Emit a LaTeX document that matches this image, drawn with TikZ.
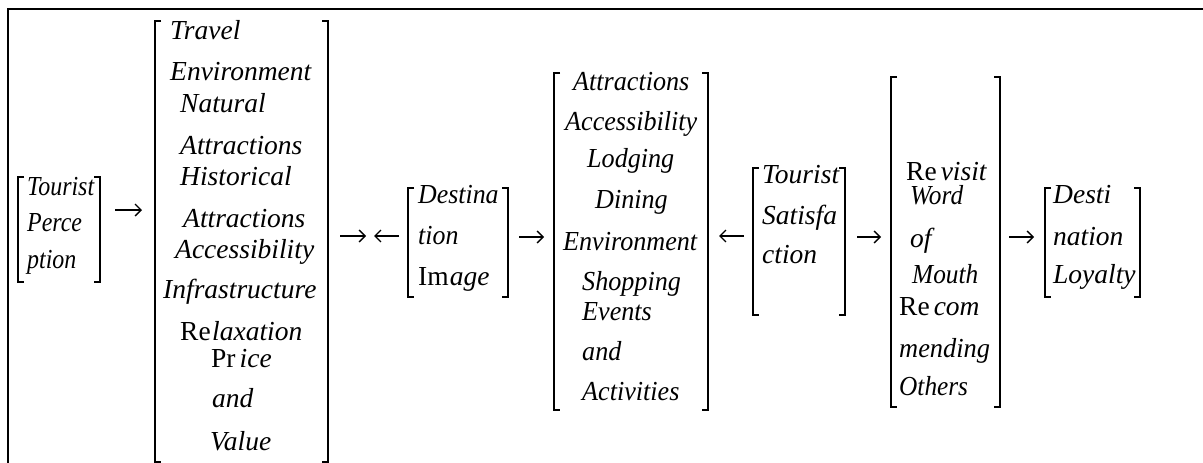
\documentclass[tikz,border=0pt]{standalone}
\usepackage{fontspec}
\setmainfont{Liberation Serif}
\usetikzlibrary{arrows.meta}
\newcommand\hsc[2]{\scalebox{#1}[1]{#2}}
\begin{document}
\begin{tikzpicture}[x=1pt,y=-1pt,
  t/.style={anchor=base west, inner sep=0pt, font=\fontsize{27.5}{30}\selectfont\itshape},
  brk/.style={line width=1.4pt},
  arr/.style={line width=1.3pt, -{Straight Barb[length=6pt,width=12pt,line width=1.3pt]}},
  frame/.style={line width=2.5pt}]
\useasboundingbox (0,0) rectangle (1203,463);
\draw[frame] (1203,9) -- (8,9) -- (8,463);

% brackets
\draw[brk] (24,177) -| (18,282) -- (24,282);
\draw[brk] (94,177) -| (100,282) -- (94,282);
\draw[brk] (161,21) -| (155,462) -- (161,462);
\draw[brk] (322,21) -| (328,462) -- (322,462);
\draw[brk] (414,188) -| (408,297) -- (414,297);
\draw[brk] (502,188) -| (508,297) -- (502,297);
\draw[brk] (560,73) -| (554,410) -- (560,410);
\draw[brk] (702,73) -| (708,410) -- (702,410);
\draw[brk] (759,168) -| (753,315) -- (759,315);
\draw[brk] (839,168) -| (845,315) -- (839,315);
\draw[brk] (897,77) -| (891,407) -- (897,407);
\draw[brk] (994,77) -| (1000,407) -- (994,407);
\draw[brk] (1051,188) -| (1045,297) -- (1051,297);
\draw[brk] (1134,188) -| (1140,297) -- (1134,297);

% Tourist Perception
\node[t] (p1) at (27,195) {\hsc{0.87}{Tourist}};
\node[t] (p2) at (27,231) {\hsc{0.87}{Perce}};
\node[t] (p3) at (27,268) {\hsc{0.87}{ption}};

% Destination attributes
\node[t] (d1) at (170,39) {Travel};
\node[t] (d2) at (170,80) {Environment};
\node[t] (d3) at (180,112) {Natural};
\node[t] (d4) at (180,154) {Attractions};
\node[t] (d5) at (180,185) {Historical};
\node[t] (d6) at (183,227) {Attractions};
\node[t] (d7) at (175,258) {Accessibility};
\node[t] (d8) at (163,298) {Infrastructure};
\node[t] (d9) at (180,340) {{\upshape Re}\hspace{1.5pt}laxation};
\node[t] (d10) at (211,367) {{\upshape Pr}\hspace{4pt}ice};
\node[t] (d11) at (212,407) {and};
\node[t] (d12) at (210,450) {Value};

% Destination Image
\node[t] (i1) at (418,203) {\hsc{0.94}{Destina}};
\node[t] (i2) at (418,244) {\hsc{0.94}{tion}};
\node[t] (i3) at (418,285) {{\upshape Im}\hspace{1pt}age};

% Attributes 2
\node[t] (e1) at (573,90) {\hsc{0.95}{Attractions}};
\node[t] (e2) at (565,130) {\hsc{0.95}{Accessibility}};
\node[t] (e3) at (587,167) {\hsc{0.95}{Lodging}};
\node[t] (e4) at (595,208) {\hsc{0.95}{Dining}};
\node[t] (e5) at (563,250) {\hsc{0.95}{Environment}};
\node[t] (e6) at (582,290) {\hsc{0.95}{Shopping}};
\node[t] (e7) at (582,320) {\hsc{0.95}{Events}};
\node[t] (e8) at (582,360) {\hsc{0.95}{and}};
\node[t] (e9) at (582,400) {\hsc{0.95}{Activities}};

% Tourist Satisfaction
\node[t] (s1) at (762,183) {Tourist};
\node[t] (s2) at (762,224) {Satisfa};
\node[t] (s3) at (762,263) {ction};

% Behaviour
\node[t] (r1) at (906,180) {{\upshape Re}\hspace{4pt}visit};
\node[t] (r2) at (910,204) {\hsc{0.92}{Word}};
\node[t] (r3) at (910,247) {of};
\node[t] (r4) at (912,283) {\hsc{0.92}{Mouth}};
\node[t] (r5) at (899,315) {{\upshape Re}\hspace{4pt}com};
\node[t] (r6) at (899,357) {\hsc{0.96}{mending}};
\node[t] (r7) at (899,395) {\hsc{0.92}{Others}};

% Destination Loyalty
\node[t] (l1) at (1053,203) {Desti};
\node[t] (l2) at (1053,245) {nation};
\node[t] (l3) at (1053,283) {Loyalty};

% arrows
\coordinate (a1s) at (115,210); \coordinate (a1e) at (142,210);
\coordinate (a2s) at (340,236); \coordinate (a2e) at (366,236);
\coordinate (a3s) at (399,236); \coordinate (a3e) at (374,236);
\coordinate (a4s) at (519,237); \coordinate (a4e) at (544,237);
\coordinate (a5s) at (744,236); \coordinate (a5e) at (719,236);
\coordinate (a6s) at (857,237); \coordinate (a6e) at (881,237);
\coordinate (a7s) at (1009,237); \coordinate (a7e) at (1034,237);
\draw[arr] (a1s) -- (a1e);
\draw[arr] (a2s) -- (a2e);
\draw[arr] (a3s) -- (a3e);
\draw[arr] (a4s) -- (a4e);
\draw[arr] (a5s) -- (a5e);
\draw[arr] (a6s) -- (a6e);
\draw[arr] (a7s) -- (a7e);
\end{tikzpicture}
\end{document}
